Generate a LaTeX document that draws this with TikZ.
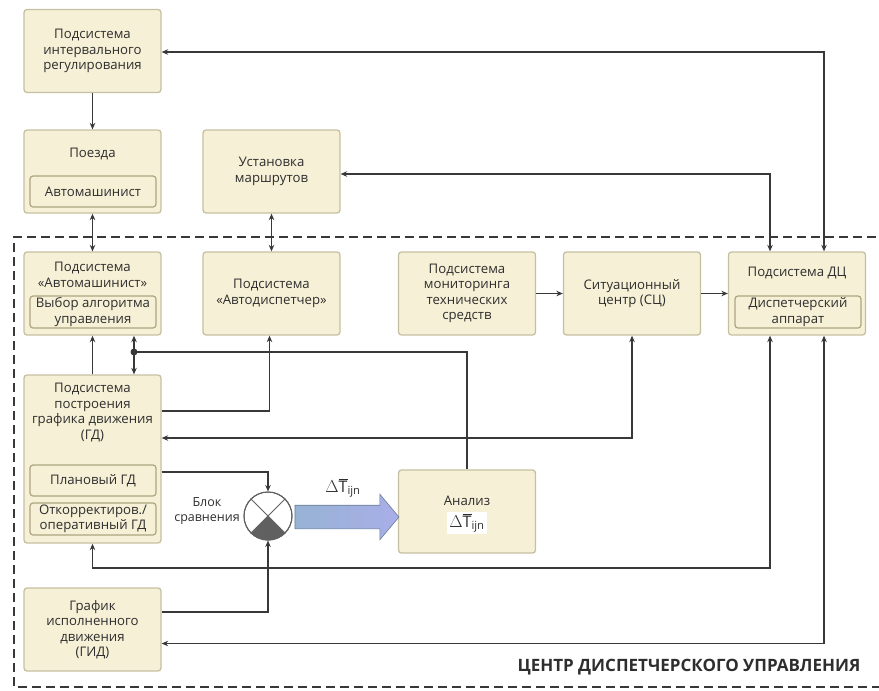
\documentclass[tikz,border=0pt]{standalone}
\usepackage{fontspec}
\setmainfont{Open Sans}
\usetikzlibrary{arrows.meta,shapes.arrows}

\definecolor{boxfill}{HTML}{F6F0D6}
\definecolor{boxline}{HTML}{C6C0A2}
\definecolor{innerline}{HTML}{ADA57F}
\definecolor{wirecol}{HTML}{383838}
\definecolor{textcol}{HTML}{2E2E2E}
\definecolor{flowblue}{HTML}{97B3D4}
\definecolor{flowviolet}{HTML}{A9AEE8}

\newcommand{\blocktext}{\fontsize{13.2}{15.5}\selectfont}

\tikzset{
  block/.style={draw=boxline, line width=1.3pt, fill=boxfill, rounded corners=3pt,
    minimum width=137pt, minimum height=83pt, inner sep=0pt, align=center,
    font=\blocktext, text=textcol},
  subblock/.style={draw=innerline, line width=1.2pt, fill=boxfill, rounded corners=3pt,
    minimum width=126pt, minimum height=31pt, inner sep=1pt, align=center,
    font=\blocktext, text=textcol},
  title/.style={align=center, font=\blocktext, text=textcol, inner sep=0pt},
  wire/.style={draw=wirecol, line width=1.9pt, -{Stealth[length=6.5pt,width=5.5pt]}},
  biwire/.style={wire, {Stealth[length=6.5pt,width=5.5pt]}-{Stealth[length=6.5pt,width=5.5pt]}},
  plainwire/.style={draw=wirecol, line width=1.9pt},
}

\begin{document}
\begin{tikzpicture}[x=1pt, y=-1pt]
  \useasboundingbox (0,0) rectangle (879,691);

  \draw[wirecol, line width=2pt, dash pattern=on 9pt off 5pt]
    (890,237) -- (14,237) -- (14,687) -- (890,687);

  \node[block] (ir) at (92.5,51) {Подсистема\\интервального\\регулирования};

  \node[block] (poezda) at (92.5,171.5) {};
  \node[title] (poezdat) at (92.5,154) {Поезда};
  \node[subblock] (amsh) at (93,191.5) {Автомашинист};

  \node[block] (ust) at (271.5,171.5) {Установка\\маршрутов};

  \node[block] (am) at (92.5,293.5) {};
  \node[title] (amt) at (92.5,275) {Подсистема\\«Автомашинист»};
  \node[subblock, minimum height=32pt] (alg) at (93,312) {Выбор алгоритма\\управления};

  \node[block] (ad) at (271.5,293.5) {Подсистема\\«Автодиспетчер»};
  \node[block] (mon) at (467,293.5) {Подсистема\\мониторинга\\технических\\средств};
  \node[block] (sc) at (632,293.5) {Ситуационный\\центр (СЦ)};

  \node[block] (dc) at (797,293.5) {};
  \node[title] (dct) at (797,273) {Подсистема ДЦ};
  \node[subblock, minimum height=32pt] (disp) at (798,312) {Диспетчерский\\аппарат};

  \node[block, minimum height=168pt] (gd) at (92.5,459) {};
  \node[title] (gdt) at (92.5,412.5) {Подсистема\\построения\\графика движения\\(ГД)};
  \node[subblock] (plan) at (93,480.5) {Плановый ГД};
  \node[subblock, minimum height=32pt] (oper) at (93,519) {Откорректиров./\\оперативный ГД};

  \node[block] (gid) at (92.5,629.5) {График\\исполненного\\движения\\(ГИД)};

  \node[block] (an) at (467,511.5) {};
  \node[title] (ant) at (467,501) {Анализ};
  \node[fill=white, inner sep=2pt, font=\fontsize{16}{16}\selectfont, text=textcol]
    (andt) at (467,523) {$\Delta\overline{\mathrm{T}}_{\mathrm{ijn}}$};

  \node[circle, draw=wirecol!80, line width=1pt, fill=white, minimum size=48pt,
    inner sep=0pt] (cmp) at (268,516) {};
  \fill[gray!75!black] (cmp.center) -- (cmp.-45) arc[start angle=-45, end angle=-135,
    radius=24pt] -- cycle;
  \draw[wirecol!80, line width=1pt] (cmp.45) -- (cmp.225) (cmp.135) -- (cmp.-45);
  \draw[wirecol!80, line width=1pt] (cmp) circle[radius=24pt];
  \node[title, font=\fontsize{12.5}{15}\selectfont] (cmpt) at (207,511) {Блок\\сравнения};

  \node[single arrow, draw=flowblue!70!black, line width=0.6pt,
    left color=flowblue, right color=flowviolet, minimum height=104pt,
    minimum width=45pt, single arrow head extend=11pt, single arrow tip angle=100,
    inner xsep=0pt, inner ysep=11.5pt] (flow) at (342,517) {};
  \node[font=\fontsize{16}{16}\selectfont, text=textcol] (flowt) at (343,488)
    {$\Delta\overline{\mathrm{T}}_{\mathrm{ijn}}$};

  \node[font=\fontsize{17}{18}\selectfont\bfseries, text=textcol] (cdu) at (689,667)
    {ЦЕНТР ДИСПЕТЧЕРСКОГО УПРАВЛЕНИЯ};

  \draw[biwire] ([xshift=27pt]dc.north) |- ([yshift=-1pt]ir.east);
  \draw[biwire] ([xshift=-27pt]dc.north) |- ([yshift=-2.5pt]ust.east);
  \draw[wire] (ir.south) -- (poezda.north);
  \draw[biwire] (poezda.south) -- (am.north);
  \draw[biwire] (ust.south) -- (ad.north);
  \draw[wire] (mon) -- (sc);
  \draw[wire] (sc) -- (dc);
  \draw[wire] (gd.north) -- (am.south);

  \coordinate (jn) at (134,352);
  \draw[plainwire] (an.north) |- (jn);
  \fill[wirecol] (jn) circle[radius=3.5pt];
  \draw[wire] (jn) -- (jn |- am.south);
  \draw[wire] (jn) -- (jn |- gd.north);

  \draw[wire] ([yshift=48pt]gd.east) -| ([xshift=-2pt]ad.south);
  \draw[biwire] (sc.south) |- ([yshift=21pt]gd.east);
  \draw[wire] ([yshift=8.5pt]plan.east -| gd.east) -| (cmp.north);
  \draw[wire] ([yshift=17.5pt]gid.east) -| (cmp.south);
  \draw[biwire] ([xshift=-27pt]dc.south) -- ++(0,232) -| (gd.south);
  \draw[biwire] ([xshift=27pt]dc.south) |- ([yshift=-14pt]gid.east);
\end{tikzpicture}
\end{document}
